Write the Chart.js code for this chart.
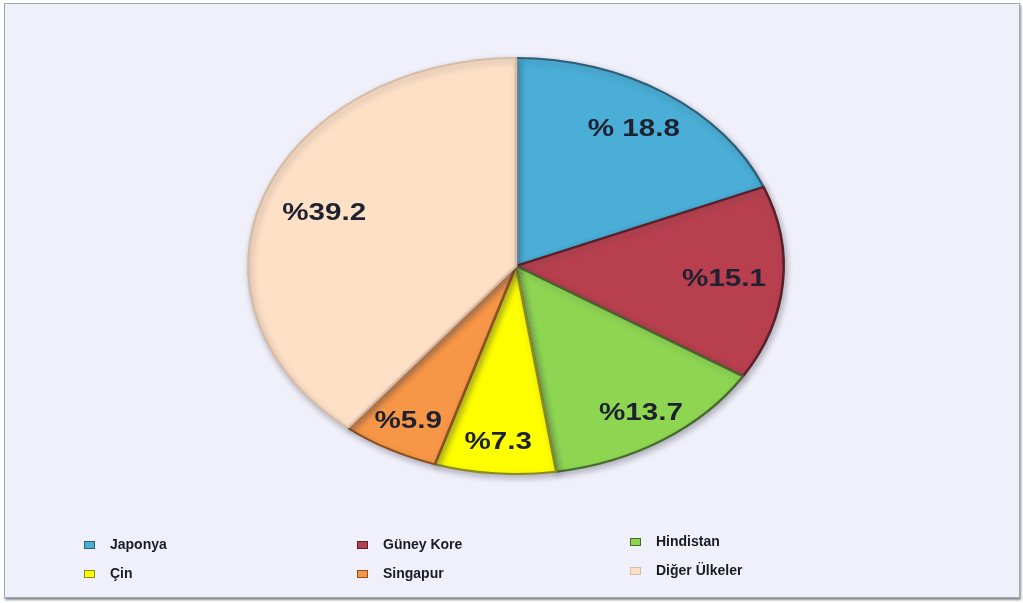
<!DOCTYPE html>
<html>
<head>
<meta charset="utf-8">
<script src="https://cdn.jsdelivr.net/npm/chart.js@4/dist/chart.umd.min.js"></script>
<style>
  html, body { margin: 0; padding: 0; background: #ffffff; }
  .frame {
    position: absolute; left: 4px; top: 3px; width: 1014px; height: 593px;
    background: #f0f0fa; border: 1px solid #a4a4b2;
    box-shadow: 1px 2px 2px rgba(90, 90, 110, 0.7);
  }
  #pie { position: absolute; left: 0; top: 0; }
</style>
</head>
<body>
<div class="frame"></div>
<canvas id="pie" width="1023" height="603"></canvas>
<script>
'use strict';

// Data (share in %)
const countries = ['Japonya', 'Güney Kore', 'Hindistan', 'Çin', 'Singapur', 'Diğer Ülkeler'];
const shares = [18.8, 15.1, 13.7, 7.3, 5.9, 39.2];
const shareLabels = ['% 18.8', '%15.1', '%13.7', '%7.3', '%5.9', '%39.2'];

const sliceColors = ['#4aaed6', '#b8404e', '#8ed652', '#ffff00', '#f79646', '#fde0c6'];
const edgeColors = ['#2e5f78', '#5a1f28', '#466b2a', '#8a8a20', '#8a5020', '#d8bca6'];

// pie is drawn stretched sideways to get the flat ellipse of the original
const STRETCH_X = 1.287;
const labelRadius = [0.79, 0.78, 0.85, 0.85, 0.85, 0.76];

function pieCenter(chart) {
  const arc = chart.getDatasetMeta(0).data[0];
  return { x: arc.x, y: arc.y, r: arc.outerRadius };
}

const ellipsePlugin = {
  id: 'ellipse',
  beforeDatasetsDraw(chart) {
    const { ctx } = chart;
    const c = pieCenter(chart);
    ctx.save();
    ctx.translate(c.x, c.y);
    ctx.scale(STRETCH_X, 1);
    ctx.translate(-c.x, -c.y);
    ctx.shadowColor = 'rgba(60, 60, 80, 0.35)';
    ctx.shadowBlur = 6;
    ctx.shadowOffsetX = 2;
    ctx.shadowOffsetY = 3;
  },
  afterDatasetsDraw(chart) {
    const { ctx } = chart;
    ctx.restore();

    // slice labels, stretched the same way
    const c = pieCenter(chart);
    ctx.save();
    ctx.translate(c.x, c.y);
    ctx.scale(STRETCH_X, 1);
    ctx.font = 'bold 23px "Liberation Sans", Arial, sans-serif';
    ctx.fillStyle = '#1e2230';
    ctx.textAlign = 'center';
    ctx.textBaseline = 'middle';
    chart.getDatasetMeta(0).data.forEach((arc, i) => {
      const mid = (arc.startAngle + arc.endAngle) / 2;
      const r = arc.outerRadius * labelRadius[i];
      ctx.fillText(shareLabels[i], Math.cos(mid) * r, Math.sin(mid) * r);
    });
    ctx.restore();
  },
};

// legend: 3 columns x 2 rows at the bottom
const legendPlugin = {
  id: 'gridLegend',
  afterDraw(chart) {
    const { ctx } = chart;
    const colX = [84, 357, 630];
    const rowY = [545, 574];
    ctx.save();
    ctx.font = 'bold 14px "Liberation Sans", Arial, sans-serif';
    ctx.textBaseline = 'middle';
    ctx.textAlign = 'left';
    countries.forEach((name, i) => {
      const x = colX[i % 3];
      const y = rowY[Math.floor(i / 3)] + (i % 3 === 2 ? -3 : 0);
      ctx.fillStyle = sliceColors[i];
      ctx.fillRect(x, y - 4, 11, 8);
      ctx.strokeStyle = edgeColors[i];
      ctx.lineWidth = 1;
      ctx.strokeRect(x + 0.5, y - 3.5, 10, 7);
      ctx.fillStyle = '#1a1a22';
      ctx.fillText(name, x + 26, y);
    });
    ctx.restore();
  },
};

new Chart(document.getElementById('pie'), {
  type: 'pie',
  data: {
    labels: countries,
    datasets: [{
      data: shares,
      backgroundColor: sliceColors,
      borderColor: edgeColors,
      borderWidth: 2,
    }],
  },
  options: {
    responsive: false,
    animation: false,
    layout: { padding: { top: 57, bottom: 128, left: 276, right: 267 } },
    plugins: {
      legend: { display: false },
      tooltip: { enabled: false },
    },
  },
  plugins: [ellipsePlugin, legendPlugin],
});
</script>
</body>
</html>
